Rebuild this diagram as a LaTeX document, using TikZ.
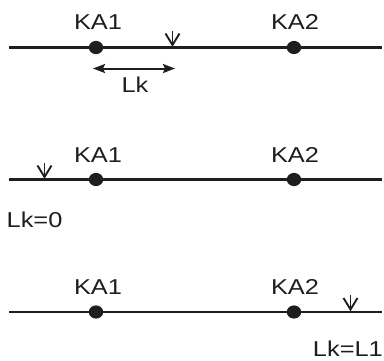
\documentclass[tikz,border=0pt]{standalone}
\usepackage{fontspec}
\setmainfont{Liberation Sans}
\usetikzlibrary{arrows.meta,calc}
\definecolor{ink}{HTML}{1E1E1E}
\tikzset{
  bus/.style={line width=2.1pt, draw=ink},
  lbl/.style={inner sep=0pt, anchor=base, text=ink, font=\fontsize{21.5}{25}\selectfont},
  faultmark/.style={line width=1.9pt, draw=ink},
  lentip/.style={line width=2pt, draw=ink, fill=ink, {Stealth[length=12pt,width=9pt,inset=2pt]}-{Stealth[length=12pt,width=9pt,inset=2pt]}},
}
\newcommand{\wtext}[1]{\scalebox{1.18}[1]{#1}}
\newcommand{\relaydot}[1]{\fill[ink] (#1) ellipse [x radius=7.2pt, y radius=6.6pt];}
\newcommand{\faultat}[1]{%
  \draw[faultmark] (#1) -- ++(0,-17);
  \draw[faultmark] ($(#1)+(-7,-14)$) -- ($(#1)+(0,-2.5)$) -- ($(#1)+(7,-14)$);}
\begin{document}
\begin{tikzpicture}[x=1pt,y=-1pt]
\useasboundingbox (0,0) rectangle (384,360);

% ---- upper line: fault between KA1 and KA2 ----
\coordinate (a1) at (9,47.5);
\coordinate (b1) at (382,47.5);
\coordinate (r11) at (96,47.5);
\coordinate (r12) at (294,47.5);
\draw[bus] (a1) -- (b1);
\relaydot{r11}
\relaydot{r12}
\node[lbl] (ka1a) at (98,29.5) {\wtext{KA1}};
\node[lbl] (ka2a) at (295,29.5) {\wtext{KA2}};
\coordinate (f1) at (172.5,47.5);
\faultat{f1}
\coordinate (d1) at (93,68.5);
\coordinate (d2) at (175,68.5);
\draw[lentip] (d1) -- (d2);
\node[lbl] (lk) at (135,92.5) {\wtext{Lk}};

% ---- middle line: fault at the start ----
\coordinate (a2) at (9,179.5);
\coordinate (b2) at (382,179.5);
\coordinate (r21) at (96,179.5);
\coordinate (r22) at (294,179.5);
\draw[bus] (a2) -- (b2);
\relaydot{r21}
\relaydot{r22}
\node[lbl] (ka1b) at (98,162) {\wtext{KA1}};
\node[lbl] (ka2b) at (295,162) {\wtext{KA2}};
\coordinate (f2) at (44.5,179.5);
\faultat{f2}
\node[lbl, anchor=base west] (lk0) at (6.5,227) {\wtext{Lk=0}};

% ---- lower line: fault at the end ----
\coordinate (a3) at (9,312);
\coordinate (b3) at (382,312);
\coordinate (r31) at (96,312);
\coordinate (r32) at (294,312);
\draw[bus] (a3) -- (b3);
\relaydot{r31}
\relaydot{r32}
\node[lbl] (ka1c) at (98,294.5) {\wtext{KA1}};
\node[lbl] (ka2c) at (295,294.5) {\wtext{KA2}};
\coordinate (f3) at (350.5,312);
\faultat{f3}
\node[lbl, anchor=base east] (lkl1) at (383,356) {\wtext{Lk=L1}};
\end{tikzpicture}
\end{document}
